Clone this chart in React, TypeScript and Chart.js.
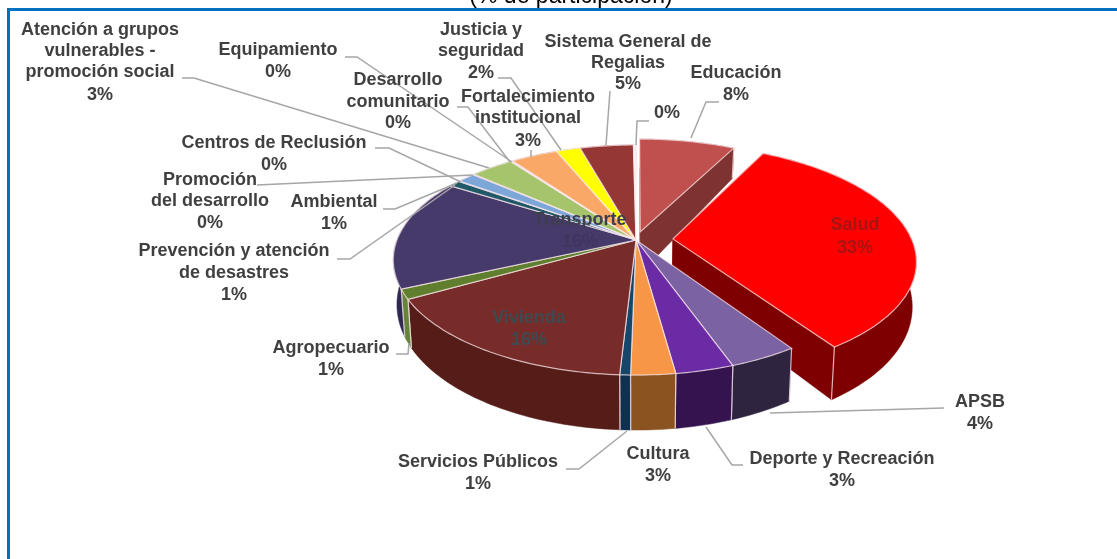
import React, { useEffect, useRef } from "react";
import { Chart, registerables } from "chart.js";

Chart.register(...registerables);

// ---- data (clockwise from 12 o'clock) ----
const categories = [
  "Educación", "Salud", "APSB", "Deporte y Recreación", "Cultura", "Servicios Públicos",
  "Vivienda", "Agropecuario", "Transporte", "Prevención y atención de desastres",
  "Promoción del desarrollo", "Ambiental", "Centros de Reclusión",
  "Atención a grupos vulnerables - promoción social", "Equipamiento",
  "Desarrollo comunitario", "Fortalecimiento institucional", "Justicia y seguridad",
  "Sistema General de Regalias", "",
];
const shares = [7.6, 33.0, 3.9, 3.3, 2.5, 0.6, 16.0, 1.4, 15.6, 0.9, 0.1, 1.4, 0.1, 3.4, 0.1, 0.1, 3.7, 1.9, 4.2, 0.2];
const percentLabels = ["8%", "33%", "4%", "3%", "3%", "1%", "16%", "1%", "16%", "1%", "0%", "1%", "0%", "3%", "0%", "0%", "3%", "2%", "5%", "0%"];
const topColors = [
  "#C0504D", "#FF0000", "#7B62A3", "#6A2BA5", "#F79646", "#17466B", "#772C2A", "#5F7F2E", "#463A6B",
  "#215968", "#4A7EBB", "#7DA7D9", "#8064A2", "#A5C46B", "#E6B9B8", "#D8D0E0", "#F9A868", "#FFFF00", "#953735", "#F2F2F2",
];
const wallColors = [
  "#7F3331", "#7F0000", "#2E2440", "#34134F", "#8A5320", "#0F3050", "#561C18", "#66853A", "#2F2850",
  "#173F4A", "#2F4F77", "#4F6F96", "#4A3A60", "#64783A", "#8F7372", "#85808C", "#975F35", "#8F8F00", "#5E2220", "#A0A0A0",
];
const sliceOffsets = [18, 37, 0, 0, 0, 0, 0, 0, 0, 0, 0, 0, 0, 0, 0, 0, 0, 0, 0, 0];

// ---- label layout: [lines, centre x, centre y of each line, colour] ----
const DARK = "#404040";
const labelLayout: { lines: string[]; x: number; ys: number[]; colors?: string[] }[] = [
  { lines: ["Educación", percentLabels[0]], x: 736, ys: [73, 95] },
  { lines: ["Salud", percentLabels[1]], x: 855, ys: [225, 248], colors: ["#A81414", "#A81414"] },
  { lines: ["APSB", percentLabels[2]], x: 980, ys: [402, 424] },
  { lines: ["Deporte y Recreación", percentLabels[3]], x: 842, ys: [459, 481] },
  { lines: ["Cultura", percentLabels[4]], x: 658, ys: [454, 476] },
  { lines: ["Servicios Públicos", percentLabels[5]], x: 478, ys: [462, 484] },
  { lines: ["Vivienda", percentLabels[6]], x: 529, ys: [318, 340], colors: ["#3F4A50", "#3F4A50"] },
  { lines: ["Agropecuario", percentLabels[7]], x: 331, ys: [348, 370] },
  { lines: ["Transporte", percentLabels[8]], x: 580, ys: [220, 242], colors: ["#3E3E50", "#3F3560"] },
  { lines: ["Prevención y atención", "de desastres", percentLabels[9]], x: 234, ys: [251, 273, 295] },
  { lines: ["Promoción", "del desarrollo", percentLabels[10]], x: 210, ys: [180, 201, 223] },
  { lines: ["Ambiental", percentLabels[11]], x: 334, ys: [202, 224] },
  { lines: ["Centros de Reclusión", percentLabels[12]], x: 274, ys: [143, 165] },
  { lines: ["Atención a grupos", "vulnerables -", "promoción social", percentLabels[13]], x: 100, ys: [30, 51, 72, 95] },
  { lines: ["Equipamiento", percentLabels[14]], x: 278, ys: [50, 72] },
  { lines: ["Desarrollo", "comunitario", percentLabels[15]], x: 398, ys: [80, 102, 123] },
  { lines: ["Fortalecimiento", "institucional", percentLabels[16]], x: 528, ys: [97, 118, 141] },
  { lines: ["Justicia y", "seguridad", percentLabels[17]], x: 481, ys: [30, 51, 73] },
  { lines: ["Sistema General de", "Regalias", percentLabels[18]], x: 628, ys: [42, 63, 84] },
  { lines: [percentLabels[19]], x: 667, ys: [113] },
];
const leaderLines: number[][][] = [
  [[182, 78], [194, 78], [489, 168]],
  [[345, 57], [357, 57], [512, 162]],
  [[457, 107], [468, 107], [510, 162]],
  [[531, 150], [531, 157]],
  [[498, 78], [511, 78], [561, 150]],
  [[610, 91], [606, 145]],
  [[649, 121], [637, 121], [636, 145]],
  [[719, 102], [706, 102], [691, 138]],
  [[375, 148], [389, 148], [461, 182]],
  [[257, 185], [473, 175]],
  [[383, 209], [395, 209], [457, 183]],
  [[337, 259], [350, 259], [455, 185]],
  [[396, 354], [408, 354], [409, 343]],
  [[566, 469], [579, 469], [627, 431]],
  [[743, 465], [732, 465], [706, 427]],
  [[944, 408], [770, 413]],
];

// ---- perspective of the pie plane ----
const SCREEN_R = 239;
const PERSP = 0.174;
const Y_SPAN = 111.56;
const project = (cx: number, cy: number, u: number, v: number) => {
  const d = 1 + PERSP * v;
  return { x: cx + (SCREEN_R * u) / d, y: cy - (Y_SPAN * v) / d, v };
};
const drop = (p: { x: number; y: number; v: number }, cx: number) => {
  const depth = 42.5 - 12.5 * p.v;
  return { x: cx + (p.x - cx) * 0.985, y: p.y + depth };
};

const pie3dPlugin = {
  id: "pie3d",
  beforeDraw(chart: any) {
    const { ctx, width, height } = chart;
    ctx.save();
    ctx.fillStyle = "#FFFFFF";
    ctx.fillRect(0, 0, width, height);
    ctx.fillStyle = "#0070C0";
    ctx.fillRect(7, 8, width - 7, 3);
    ctx.fillRect(7, 8, 3, height - 8);
    ctx.restore();
  },
  beforeDatasetDraw(chart: any) {
    const { ctx } = chart;
    const arcs = chart.getDatasetMeta(0).data as any[];

    const outline = (el: any) => {
      const off = (el.options.offset || 0) / SCREEN_R;
      const mid = (el.startAngle + el.endAngle) / 2;
      const su = Math.cos(mid) * off;
      const sv = -Math.sin(mid) * off;
      const steps = Math.max(2, Math.ceil((el.endAngle - el.startAngle) / 0.02));
      const rim = [];
      for (let i = 0; i <= steps; i++) {
        const a = el.startAngle + ((el.endAngle - el.startAngle) * i) / steps;
        rim.push(project(el.x, el.y, Math.cos(a) + su, -Math.sin(a) + sv));
      }
      return { apex: project(el.x, el.y, su, sv), rim };
    };
    const path = (pts: { x: number; y: number }[]) => {
      ctx.beginPath();
      pts.forEach((p, i) => (i ? ctx.lineTo(p.x, p.y) : ctx.moveTo(p.x, p.y)));
      ctx.closePath();
    };
    const drawWalls = (i: number, withCuts: boolean) => {
      const { apex, rim } = outline(arcs[i]);
      const cx = arcs[i].x;
      ctx.fillStyle = wallColors[i];
      ctx.strokeStyle = wallColors[i];
      ctx.lineWidth = 0.5;
      if (withCuts) {
        [rim[0], rim[rim.length - 1]].forEach((p) => {
          path([apex, p, drop(p, cx), drop(apex, cx)]);
          ctx.fill();
          ctx.stroke();
        });
      }
      path([...rim, ...rim.map((p) => drop(p, cx)).reverse()]);
      ctx.fill();
      ctx.stroke();
      ctx.strokeStyle = "rgba(255,235,240,0.75)";
      ctx.lineWidth = 1.2;
      [rim[0], rim[rim.length - 1]].forEach((p) => {
        const q = drop(p, cx);
        ctx.beginPath();
        ctx.moveTo(p.x, p.y);
        ctx.lineTo(q.x, q.y);
        ctx.stroke();
      });
    };
    const drawTop = (i: number) => {
      const { apex, rim } = outline(arcs[i]);
      path([apex, ...rim]);
      ctx.fillStyle = topColors[i];
      ctx.fill();
      ctx.strokeStyle = "rgba(255,235,240,0.7)";
      ctx.lineWidth = 1.2;
      ctx.stroke();
    };

    ctx.save();
    [0, 1].forEach((i) => {
      drawWalls(i, true);
      drawTop(i);
    });
    for (let i = 2; i < arcs.length; i++) drawWalls(i, false);
    for (let i = 2; i < arcs.length; i++) drawTop(i);
    ctx.restore();
    return false;
  },
  afterDraw(chart: any) {
    const { ctx } = chart;
    ctx.save();
    ctx.strokeStyle = "#A6A6A6";
    ctx.lineWidth = 1.5;
    leaderLines.forEach((line) => {
      ctx.beginPath();
      line.forEach(([x, y], i) => (i ? ctx.lineTo(x, y) : ctx.moveTo(x, y)));
      ctx.stroke();
    });
    ctx.font = 'bold 18px "Liberation Sans", Arial, sans-serif';
    ctx.textAlign = "center";
    ctx.textBaseline = "middle";
    labelLayout.forEach((l) => {
      l.lines.forEach((t, i) => {
        ctx.fillStyle = l.colors ? l.colors[i] : DARK;
        ctx.fillText(t, l.x, l.ys[i]);
      });
    });
    ctx.font = '23px "Liberation Sans", Arial, sans-serif';
    ctx.fillStyle = "#000000";
    ctx.textBaseline = "alphabetic";
    ctx.fillText("(% de participación)", 571, 3);
    ctx.restore();
  },
};

export default function App() {
  const ref = useRef<HTMLCanvasElement>(null);
  useEffect(() => {
    const chart = new Chart(ref.current as HTMLCanvasElement, {
      type: "pie",
      data: {
        labels: categories,
        datasets: [
          {
            data: shares,
            backgroundColor: topColors,
            offset: sliceOffsets,
            borderWidth: 0,
          },
        ],
      },
      options: {
        responsive: false,
        animation: false,
        layout: { padding: { left: 155, right: 0, top: 0, bottom: 79 } },
        plugins: { legend: { display: false }, title: { display: false }, tooltip: { enabled: false } },
      },
      plugins: [pie3dPlugin],
    } as any);
    return () => chart.destroy();
  }, []);
  return (
    <canvas
      ref={ref}
      width={1117}
      height={559}
      style={{ position: "fixed", left: 0, top: 0, width: 1117, height: 559, display: "block" }}
    />
  );
}
